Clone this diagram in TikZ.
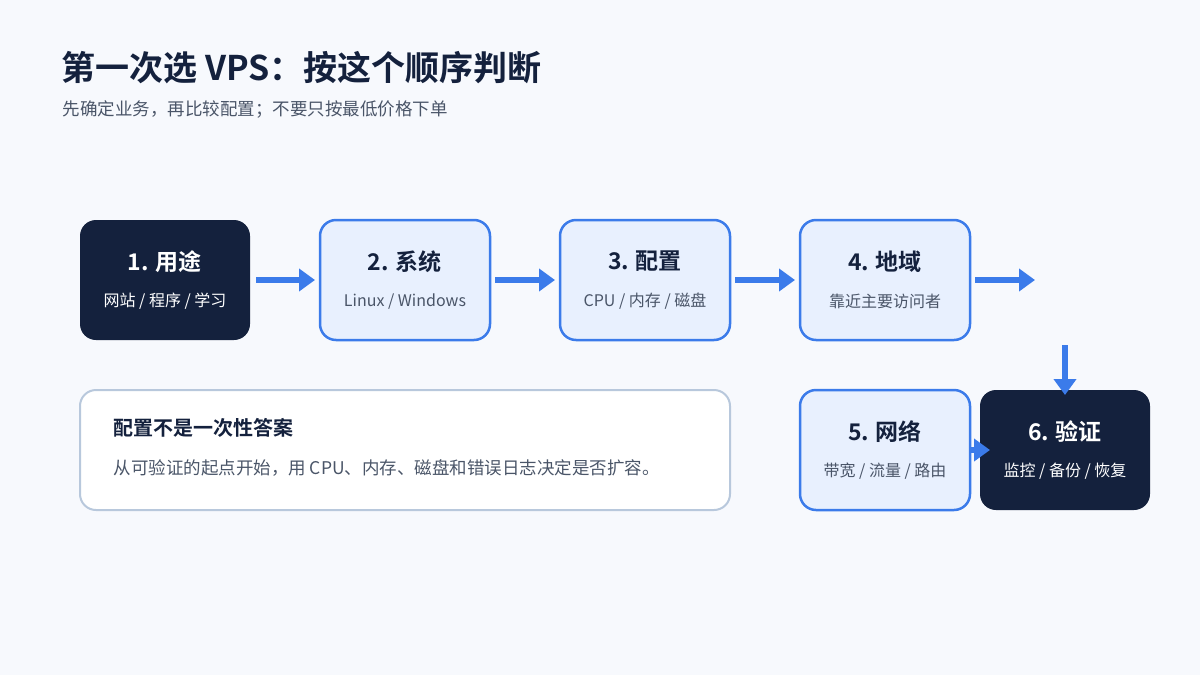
\documentclass[tikz,border=0pt]{standalone}
\usepackage{fontspec}
\setmainfont{Noto Sans CJK SC}[BoldFont={Noto Sans CJK SC Bold}]
\usetikzlibrary{arrows.meta,positioning}
\definecolor{navy}{HTML}{14213D}
\definecolor{flowblue}{HTML}{3B7BEA}
\definecolor{paleblue}{HTML}{E8F0FE}
\definecolor{bgcol}{HTML}{F7F9FD}
\definecolor{graytext}{HTML}{4A5568}
\definecolor{noteline}{HTML}{B8C8DC}
\tikzset{
  stepbox/.style={rounded corners=16pt,minimum width=170pt,minimum height=120pt,align=center,outer sep=0pt},
  stepdark/.style={stepbox,fill=navy,text=white},
  steplight/.style={stepbox,fill=paleblue,draw=flowblue,line width=2.5pt,text=navy},
  flow/.style={flowblue,line width=6pt,-{Triangle[length=16pt,width=22pt]}},
}
\newcommand{\steptext}[3]{{\fontsize{23}{27}\selectfont\bfseries #1}\\[20pt]{\fontsize{16}{19}\selectfont\color{#3}#2}}
\begin{document}
\begin{tikzpicture}[x=1pt,y=-1pt]
\fill[bgcol] (0,0) rectangle (1200,675);
% title
\node[anchor=west,text=navy,font=\fontsize{34}{40}\selectfont\bfseries] (title) at (58,68) {第一次选 VPS：按这个顺序判断};
\node[anchor=west,text=graytext,font=\fontsize{17.5}{21}\selectfont] (sub) at (59,109) {先确定业务，再比较配置；不要只按最低价格下单};
% steps
\node[stepdark] (s1) at (165,280) {\steptext{1. 用途}{网站 / 程序 / 学习}{white}};
\node[steplight] (s2) at (405,280) {\steptext{2. 系统}{Linux / Windows}{graytext}};
\node[steplight] (s3) at (645,280) {\steptext{3. 配置}{CPU / 内存 / 磁盘}{graytext}};
\node[steplight] (s4) at (885,280) {\steptext{4. 地域}{靠近主要访问者}{graytext}};
\node[steplight] (s5) at (885,450) {\steptext{5. 网络}{带宽 / 流量 / 路由}{graytext}};
\node[stepdark] (s6) at (1065,450) {\steptext{6. 验证}{监控 / 备份 / 恢复}{white}};
% note
\node[rounded corners=16pt,fill=white,draw=noteline,line width=2pt,minimum width=650pt,minimum height=120pt] (note) at (405,450) {};
\node[anchor=west,text=navy,font=\fontsize{20}{24}\selectfont\bfseries] (notehead) at (110,428) {配置不是一次性答案};
\node[anchor=west,text=graytext,font=\fontsize{17.5}{21}\selectfont] (notebody) at (110,468) {从可验证的起点开始，用 CPU、内存、磁盘和错误日志决定是否扩容。};
% arrows
\coordinate (c4) at (1035,280);
\coordinate (c5) at (1065,345);
\draw[flow,shorten <=6pt,shorten >=5pt] (s1) -- (s2);
\draw[flow,shorten <=5pt,shorten >=5pt] (s2) -- (s3);
\draw[flow,shorten <=5pt,shorten >=5pt] (s3) -- (s4);
\draw[flow,shorten <=5pt] (s4) -- (c4);
\draw[flow] (c5) -- ([yshift=-5pt]s6.north);
\draw[flow] (s5.east) -- ([xshift=10pt]s6.west);
\end{tikzpicture}
\end{document}
